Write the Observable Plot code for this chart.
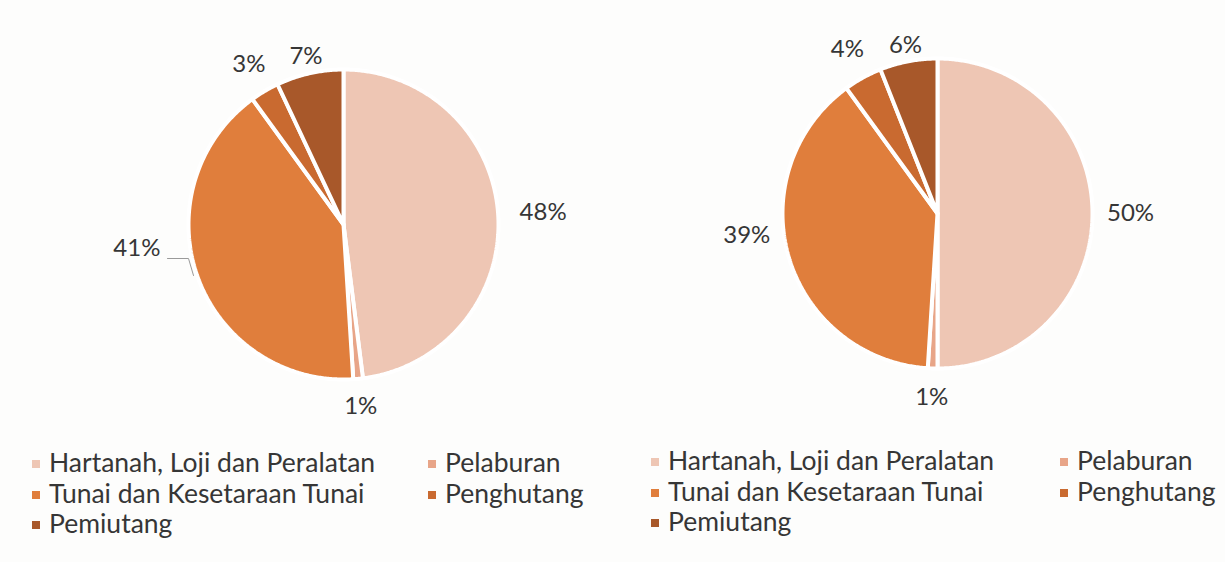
<!DOCTYPE html>
<html>
<head>
<meta charset="utf-8">
<script src="https://cdn.jsdelivr.net/npm/d3@7"></script>
<script src="https://cdn.jsdelivr.net/npm/@observablehq/plot@0.6"></script>
<style>
  html, body { margin: 0; padding: 0; background: #fdfdfc; }
  #wrap { position: relative; width: 1225px; height: 562px; overflow: hidden; font-family: Lato, "Open Sans", sans-serif; color: #363636; }
  .panel { position: absolute; top: 0; width: 612px; height: 430px; }
  .legend { position: absolute; font-size: 26.5px; line-height: 30.5px; }
  .item { position: absolute; white-space: nowrap; }
  .sw { position: absolute; width: 8px; height: 8px; top: 13px; left: -17px; }
</style>
</head>
<body>
<div id="wrap"></div>
<script>
// ---- data ----
const categories = ["Hartanah, Loji dan Peralatan", "Pelaburan", "Tunai dan Kesetaraan Tunai", "Penghutang", "Pemiutang"];
const colors = ["#EEC6B4", "#E8A588", "#E07E3C", "#C96A30", "#A8582A"];
const valuesLeft = [48, 1, 41, 3, 7];
const valuesRight = [50, 1, 39, 4, 6];

// ---- layout (label distances from centre, px) ----
const R = 155;
const labelRadiusLeft = [200, 183, 208, 186, 172];
const labelRadiusRight = [193, 184, 192, 187, 171];
const wrap = document.getElementById("wrap");
const deg = Math.PI / 180;

function slices(values) {
  const total = d3.sum(values);
  const pts = [];
  const mids = [];
  let acc = 0;
  values.forEach((v, i) => {
    const a0 = acc / total * 2 * Math.PI;
    acc += v;
    const a1 = acc / total * 2 * Math.PI;
    mids.push({cat: categories[i], value: v, mid: (a0 + a1) / 2});
    const n = Math.max(2, Math.ceil((a1 - a0) / (Math.PI / 360)));
    pts.push({cat: categories[i], x: 0, y: 0});
    for (let k = 0; k <= n; k++) {
      const a = a0 + (a1 - a0) * k / n;
      pts.push({cat: categories[i], x: R * Math.sin(a), y: -R * Math.cos(a)});
    }
    pts.push({cat: categories[i], x: 0, y: 0});
  });
  return {pts, mids};
}

function drawPie(values, radii, cx, cy, left, overrides, leader) {
  const {pts, mids} = slices(values);
  const labels = mids.map((d, i) => {
    const a = overrides[i] != null ? overrides[i] : d.mid;
    const r = radii[i];
    return {label: d.value + "%", x: r * Math.sin(a), y: -r * Math.cos(a)};
  });
  const marks = [
    Plot.line(pts, {x: "x", y: "y", z: "cat", fill: "cat", stroke: "white", strokeWidth: 4, strokeLinejoin: "miter", curve: "linear"})
  ];
  if (leader) marks.push(Plot.line(leader, {x: "x", y: "y", stroke: "#9a9a9a", strokeWidth: 1}));
  marks.push(Plot.text(labels, {x: "x", y: "y", text: "label", fontSize: 24, fill: "#363636", fontFamily: "Lato, sans-serif"}));
  const chart = Plot.plot({
    width: 612, height: 430,
    margin: 0,
    x: {domain: [-cx, 612 - cx], range: [0, 612], axis: null},
    y: {domain: [-cy, 430 - cy], range: [0, 430], axis: null},
    color: {domain: categories, range: colors},
    style: {background: "transparent", overflow: "visible"},
    marks
  });
  const div = document.createElement("div");
  div.className = "panel";
  div.style.left = left + "px";
  div.appendChild(chart);
  wrap.appendChild(div);
}

function drawLegend(left, top, col2) {
  const lg = document.createElement("div");
  lg.className = "legend";
  lg.style.left = left + "px";
  lg.style.top = top + "px";
  const cells = [[0, 0, 0], [1, col2, 0], [2, 0, 1], [3, col2, 1], [4, 0, 2]];
  cells.forEach(([i, x, row]) => {
    const it = document.createElement("div");
    it.className = "item";
    it.style.left = x + "px";
    it.style.top = (row * 30.5) + "px";
    const sw = document.createElement("span");
    sw.className = "sw";
    sw.style.background = colors[i];
    it.appendChild(sw);
    it.appendChild(document.createTextNode(categories[i]));
    lg.appendChild(it);
  });
  wrap.appendChild(lg);
}

drawPie(valuesLeft, labelRadiusLeft, 343, 224, 0, {2: 263.4 * deg}, [{x: -176, y: 34}, {x: -155, y: 34}, {x: -150, y: 51}]);
drawPie(valuesRight, labelRadiusRight, 325, 213, 612, {2: 263.4 * deg}, null);
drawLegend(49, 447, 396);
drawLegend(668, 445, 409);
</script>
</body>
</html>
